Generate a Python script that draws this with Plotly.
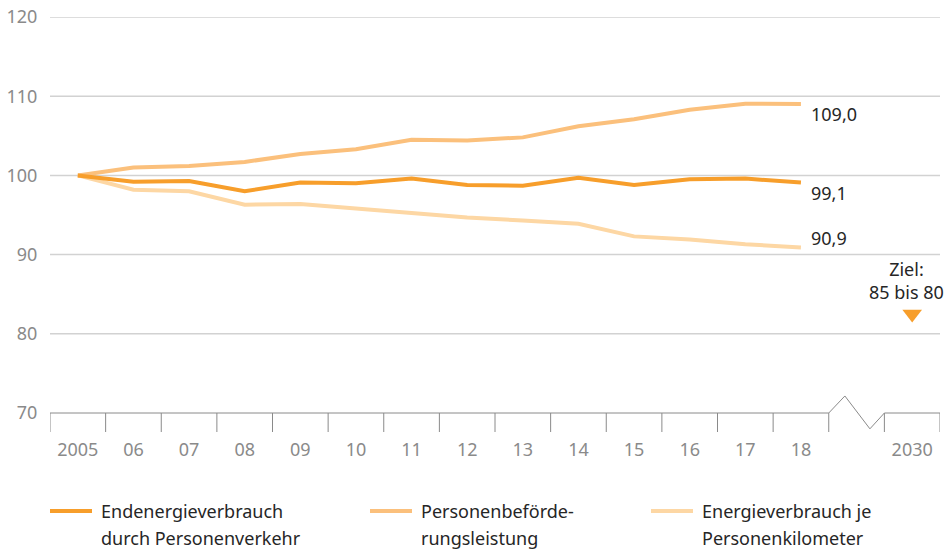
import plotly.graph_objects as go

# Index 2005 = 100
years = ["2005", "06", "07", "08", "09", "10", "11", "12", "13", "14", "15", "16", "17", "18"]
target_year = "2030"

endenergie = [100.0, 99.2, 99.3, 98.0, 99.1, 99.0, 99.6, 98.8, 98.7, 99.7, 98.8, 99.5, 99.6, 99.1]
befoerderung = [100.0, 101.0, 101.2, 101.7, 102.7, 103.3, 104.5, 104.4, 104.8, 106.2, 107.1, 108.3, 109.05, 109.0]
je_pkm = [100.0, 98.2, 98.0, 96.3, 96.4, 95.8, 95.3, 94.7, 94.3, 93.9, 92.3, 91.9, 91.3, 90.9]

target_high = 85
target_low = 80

y_ticks = [70, 80, 90, 100, 110, 120]
grid_values = [80, 90, 100, 110, 120]

series_names = [
    ["Endenergieverbrauch", "durch Personenverkehr"],
    ["Personenbeförde-", "rungsleistung"],
    ["Energieverbrauch je", "Personenkilometer"],
]

C_DARK = "#F79E2B"
C_MID = "#FBC07C"
C_LIGHT = "#FDD7A4"
TXT = "#262626"
GREY = "#8a8a8a"
FONT = "Noto Sans"

Y_MIN, Y_MAX = 70, 120
x_hist = list(range(len(years)))
x_target = len(years) + 1  # one empty slot for the axis break
gap_slot = len(years)

fig = go.Figure()

for vals, col in [(je_pkm, C_LIGHT), (befoerderung, C_MID), (endenergie, C_DARK)]:
    fig.add_trace(go.Scatter(x=x_hist, y=vals, mode="lines",
                             line=dict(color=col, width=4), showlegend=False,
                             hoverinfo="skip"))

target_mid = (target_high + target_low) / 2
fig.add_trace(go.Scatter(x=[x_target], y=[target_mid], mode="markers",
                         marker=dict(symbol="triangle-down", size=17, color=C_DARK),
                         showlegend=False, hoverinfo="skip", cliponaxis=False))

shapes = []
# horizontal grid
for v in grid_values:
    shapes.append(dict(type="line", xref="paper", yref="y", x0=0, x1=1, y0=v, y1=v,
                       line=dict(color="#d2d2d2", width=1.5), layer="below"))


def to_paper(v):
    return (v - Y_MIN) / (Y_MAX - Y_MIN)


# baseline with zig-zag break between the last year and 2030
b0 = gap_slot - 0.5
b1 = gap_slot + 0.5
path = (f"M -0.5,{to_paper(70)} L {b0},{to_paper(70)} "
        f"L {b0 + 0.29},{to_paper(72.15)} L {b0 + 0.74},{to_paper(68.0)} "
        f"L {b1},{to_paper(70)} L {x_target + 0.5},{to_paper(70)}")
shapes.append(dict(type="path", xref="x", yref="paper", path=path,
                   line=dict(color=GREY, width=1)))
# category separators below the baseline
for k in range(x_target + 2):
    xb = k - 0.5
    shapes.append(dict(type="line", xref="x", yref="paper", x0=xb, x1=xb,
                       y0=to_paper(70), y1=to_paper(67.6),
                       line=dict(color=GREY, width=1)))

annotations = []
# end-value labels
for vals, ys in [(befoerderung, -10), (endenergie, -10), (je_pkm, 9)]:
    last = vals[-1]
    annotations.append(dict(x=x_hist[-1], y=last, xref="x", yref="y",
                            text=f"{last:.1f}".replace(".", ","), showarrow=False,
                            xanchor="left", yanchor="middle", xshift=8, yshift=ys,
                            font=dict(family=FONT, size=18, color=TXT)))
# target label
annotations.append(dict(x=x_target, y=target_mid, xref="x", yref="y",
                        text=f"Ziel:<br>{target_high} bis {target_low}", showarrow=False,
                        xanchor="center", yanchor="bottom", xshift=-6, yshift=8,
                        align="center",
                        font=dict(family=FONT, size=18, color=TXT)))

# legend drawn below the chart
legend_x = [50, 370, 651]
legend_cols = [C_DARK, C_MID, C_LIGHT]
W, H = 945, 551
for lx, col, lines in zip(legend_x, legend_cols, series_names):
    shapes.append(dict(type="line", xref="paper", yref="paper",
                       x0=(lx - 50) / 890, x1=(lx - 50 + 42) / 890,
                       y0=(413 - 511) / 396, y1=(413 - 511) / 396,
                       line=dict(color=col, width=4)))
    for i, t in enumerate(lines):
        annotations.append(dict(xref="paper", yref="paper",
                                x=(lx - 50 + 49) / 890, y=(413 - 511 - 27 * i) / 396,
                                text=t, showarrow=False, xanchor="left", yanchor="middle",
                                font=dict(family=FONT, size=18, color=TXT)))

fig.update_layout(
    width=W, height=H,
    margin=dict(l=50, r=5, t=17, b=138),
    paper_bgcolor="white", plot_bgcolor="white",
    shapes=shapes, annotations=annotations,
    xaxis=dict(range=[-0.5, x_target + 0.5], tickvals=x_hist + [x_target],
               ticktext=years + [target_year], showgrid=False, zeroline=False,
               showline=False, ticks="outside", ticklen=20, tickcolor="rgba(0,0,0,0)",
               tickfont=dict(family=FONT, size=18, color=GREY), fixedrange=True),
    yaxis=dict(range=[Y_MIN, Y_MAX], tickvals=y_ticks, showgrid=False, zeroline=False,
               showline=False, ticks="outside", ticklen=8, tickcolor="rgba(0,0,0,0)",
               tickfont=dict(family=FONT, size=18, color=GREY), fixedrange=True),
)

fig.write_html("out.html", config={"displayModeBar": False})
